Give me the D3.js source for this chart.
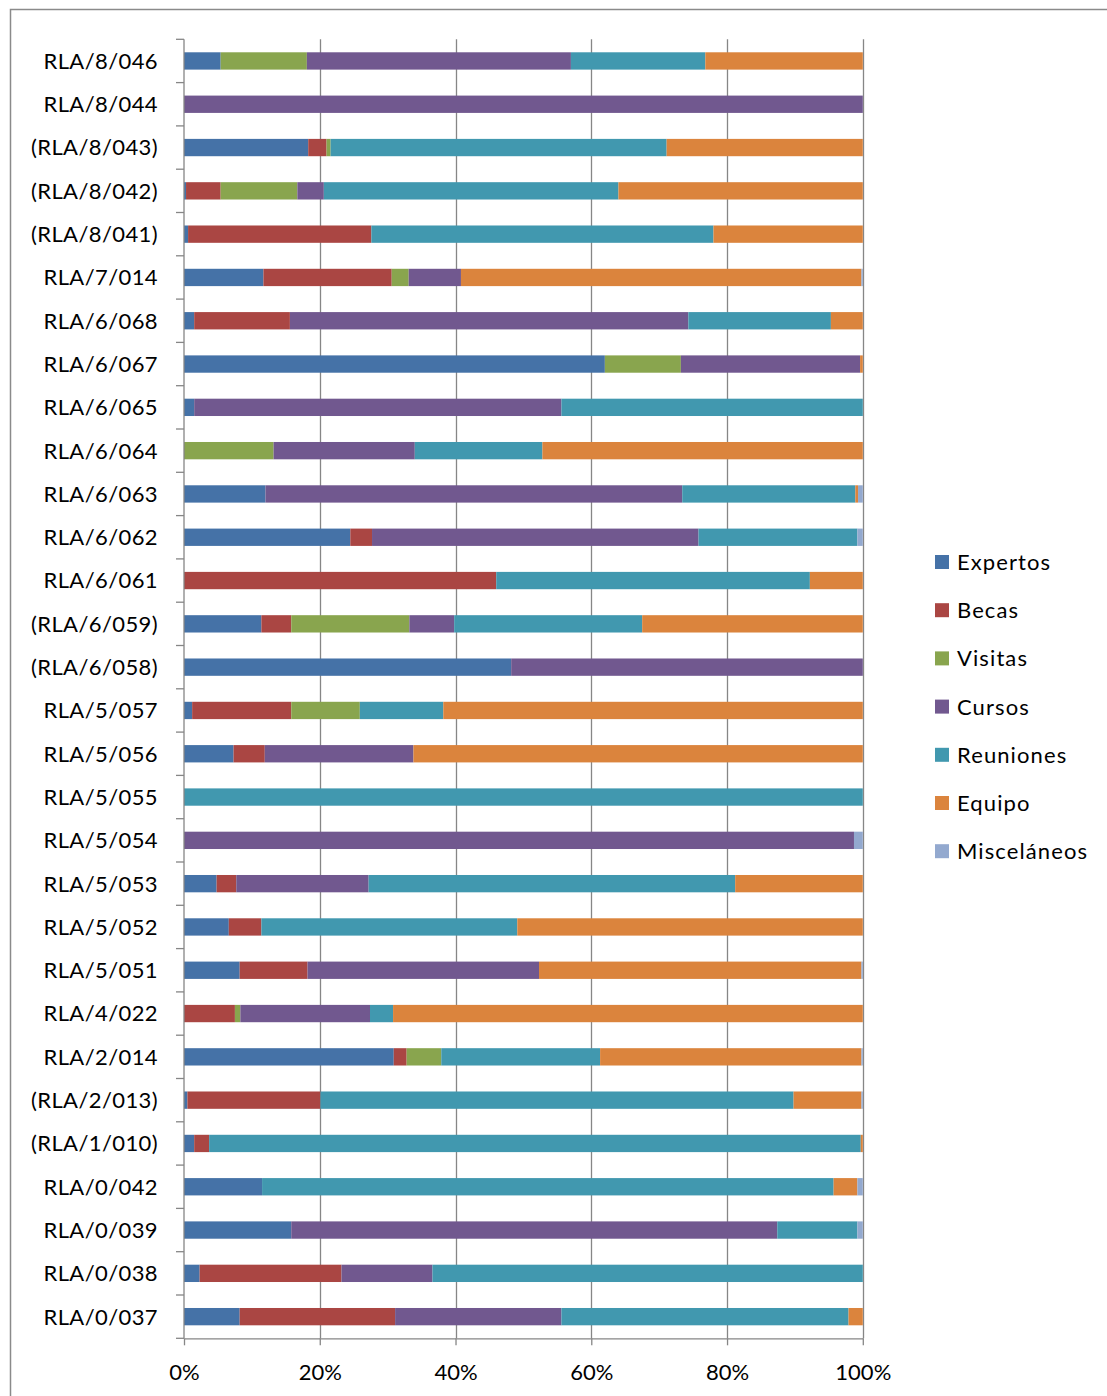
<!DOCTYPE html>
<html>
<head>
<meta charset="utf-8">
<script src="https://cdn.jsdelivr.net/npm/d3@7/dist/d3.min.js"></script>
<style>
  html, body { margin: 0; padding: 0; background: #fff; }
  svg { display: block; }
  text { font-family: Lato, "Open Sans", sans-serif; fill: #000; }
</style>
</head>
<body>
<script>
// ---- Data (percent of each project's budget) ----
const categories = ["RLA/8/046","RLA/8/044","(RLA/8/043)","(RLA/8/042)","(RLA/8/041)","RLA/7/014","RLA/6/068","RLA/6/067","RLA/6/065","RLA/6/064","RLA/6/063","RLA/6/062","RLA/6/061","(RLA/6/059)","(RLA/6/058)","RLA/5/057","RLA/5/056","RLA/5/055","RLA/5/054","RLA/5/053","RLA/5/052","RLA/5/051","RLA/4/022","RLA/2/014","(RLA/2/013)","(RLA/1/010)","RLA/0/042","RLA/0/039","RLA/0/038","RLA/0/037"];
const seriesNames = ["Expertos","Becas","Visitas","Cursos","Reuniones","Equipo","Misceláneos"];
const expertos    = [5.4,0,18.3,0.3,0.6,11.7,1.5,62.0,1.5,0,12.0,24.5,0,11.4,48.2,1.2,7.3,0,0,4.8,6.6,8.2,0,30.9,0.5,1.5,11.5,15.8,2.3,8.2];
const becas       = [0,0,2.7,5.1,27.0,18.9,14.1,0,0,0,0,3.2,46.0,4.4,0,14.6,4.6,0,0,2.9,4.8,10.0,7.5,1.9,19.6,2.2,0,0,20.9,22.9];
const visitas     = [12.7,0,0.6,11.3,0,2.5,0,11.2,0,13.2,0,0,0,17.4,0,10.1,0,0,0,0,0,0,0.8,5.1,0,0,0,0,0,0];
const cursos      = [38.9,100,0,3.9,0,7.7,58.7,26.4,54.1,20.8,61.4,48.1,0,6.6,51.8,0,21.9,0,98.7,19.5,0,34.1,19.1,0,0,0,0,71.6,13.4,24.5];
const reuniones   = [19.8,0,49.5,43.4,50.4,0,21.0,0,44.4,18.8,25.5,23.4,46.2,27.7,0,12.3,0,100,0,54.0,37.7,0,3.4,23.4,69.7,96.0,84.2,11.8,63.4,42.3];
const equipo      = [23.2,0,28.9,36.0,22.0,59.0,4.7,0.4,0,47.2,0.4,0,7.8,32.5,0,61.8,66.2,0,0,18.8,50.9,47.5,69.2,38.5,10.0,0.3,3.5,0,0,2.1];
const miscelaneos = [0,0,0,0,0,0.2,0,0,0,0,0.7,0.8,0,0,0,0,0,0,1.3,0,0,0.2,0,0.2,0.2,0,0.8,0.8,0,0];
const xTicks = [0,20,40,60,80,100];
const colors = ["#4572A7","#AA4643","#89A54E","#71588F","#4198AF","#DB843D","#93A9CF"];

const seriesValues = [expertos,becas,visitas,cursos,reuniones,equipo,miscelaneos];
const rows = categories.map((c,i) => {
  const r = {cat: c};
  seriesNames.forEach((s,j) => r[s] = seriesValues[j][i]);
  return r;
});

const W = 1107, H = 1396;
const svg = d3.select("body").append("svg").attr("width", W).attr("height", H);

// outer frame
svg.append("path").attr("d", `M10.5,${H} L10.5,9.5 L${W},9.5`)
  .attr("fill","none").attr("stroke","#8a8a8a").attr("stroke-width",1.5);

const plot = {left: 184, right: 862.8, top: 39.3, bottom: 1338.3};

const x = d3.scaleLinear().domain([0,100]).range([plot.left, plot.right]);
const y = d3.scaleBand().domain(categories).range([plot.top, plot.bottom])
  .paddingInner(0.6).paddingOuter(0.3);
const color = d3.scaleOrdinal().domain(seriesNames).range(colors);

const stack = d3.stack().keys(seriesNames).offset(d3.stackOffsetExpand);
const stacked = stack(rows);

// gridlines
svg.append("g").selectAll("line").data(xTicks.slice(1)).join("line")
  .attr("x1", d => Math.round(x(d)) + 0.5).attr("x2", d => Math.round(x(d)) + 0.5)
  .attr("y1", plot.top).attr("y2", plot.bottom)
  .attr("stroke","#868686").attr("stroke-width",1.3);

// bars
svg.append("g").selectAll("g").data(stacked).join("g")
  .attr("fill", d => color(d.key))
  .selectAll("rect").data(d => d).join("rect")
  .attr("x", d => x(d[0]*100))
  .attr("width", d => Math.max(0, x(d[1]*100) - x(d[0]*100)))
  .attr("y", d => y(d.data.cat))
  .attr("height", y.bandwidth());

// x axis
const xAxis = svg.append("g").attr("transform", `translate(0,${plot.bottom})`)
  .call(d3.axisBottom(x).tickValues(xTicks).tickFormat(d => d + "%").tickSizeInner(7).tickSizeOuter(0).tickPadding(19));
xAxis.select(".domain").attr("stroke","#868686").attr("stroke-width",1.3);
xAxis.selectAll(".tick line").attr("stroke","#868686").attr("stroke-width",1.3);
xAxis.selectAll(".tick text").attr("font-size", 22).attr("font-family","Lato, sans-serif").attr("fill","#000");

// y axis: line + ticks between categories
const yg = svg.append("g");
yg.append("line").attr("x1", plot.left).attr("x2", plot.left)
  .attr("y1", plot.top).attr("y2", plot.bottom)
  .attr("stroke","#868686").attr("stroke-width",1.3);
const step = y.step();
const boundaries = d3.range(categories.length + 1).map(i => y.range()[0] + i * step);
yg.selectAll("line.tk").data(boundaries).join("line").attr("class","tk")
  .attr("x1", plot.left - 8).attr("x2", plot.left)
  .attr("y1", d => d).attr("y2", d => d)
  .attr("stroke","#868686").attr("stroke-width",1.3);
yg.selectAll("text").data(categories).join("text")
  .attr("x", 158).attr("y", d => y(d) + y.bandwidth()/2)
  .attr("dy","0.36em").attr("text-anchor","end")
  .attr("font-size", 22).attr("letter-spacing", 0.4)
  .text(d => d);

// legend
const lg = svg.append("g");
const legendY0 = 562, legendStep = 48.2;
seriesNames.forEach((s,i) => {
  const cy = legendY0 + i*legendStep;
  lg.append("rect").attr("x", 935).attr("y", cy - 7).attr("width", 14).attr("height", 14).attr("fill", color(s));
  lg.append("text").attr("x", 957).attr("y", cy).attr("dy","0.36em").attr("font-size", 22)
    .attr("letter-spacing", 1.1).text(s);
});
</script>
</body>
</html>
